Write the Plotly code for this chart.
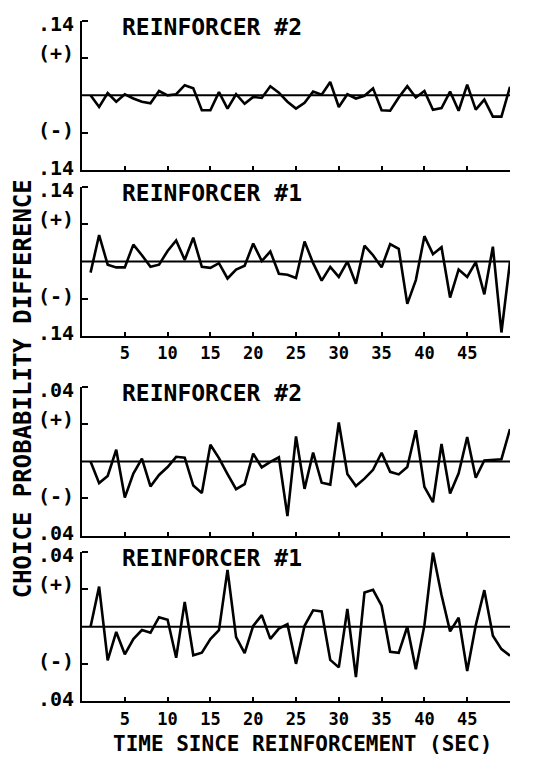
import plotly.graph_objects as go

# Seconds since reinforcement (1..50)
seconds = list(range(1, 51))

# Choice probability differences, upper pair of panels (scale +/- .14)
reinf2_upper = [0.000, -0.022, 0.004, -0.012, 0.002, -0.006, -0.012, -0.015, 0.008, 0.000,
                0.002, 0.019, 0.013, -0.028, -0.028, 0.006, -0.025, 0.002, -0.016, -0.003,
                -0.005, 0.017, 0.005, -0.012, -0.025, -0.014, 0.007, 0.001, 0.025, -0.022,
                0.002, -0.006, -0.001, 0.013, -0.028, -0.029, -0.004, 0.017, -0.004, 0.008,
                -0.027, -0.024, 0.007, -0.029, 0.020, -0.027, -0.008, -0.040, -0.040, 0.016]

reinf1_upper = [-0.021, 0.050, -0.006, -0.011, -0.011, 0.032, 0.012, -0.010, -0.006, 0.020,
                0.040, 0.003, 0.045, -0.010, -0.012, -0.003, -0.032, -0.015, -0.008, 0.034,
                0.001, 0.019, -0.023, -0.025, -0.031, 0.038, -0.003, -0.036, -0.010, -0.029,
                0.000, -0.042, 0.030, 0.012, -0.011, 0.033, 0.024, -0.080, -0.035, 0.048,
                0.014, 0.027, -0.068, -0.015, -0.029, -0.001, -0.062, 0.028, -0.134, 0.000]

# Choice probability differences, lower pair of panels (scale +/- .04)
reinf2_lower = [0.000, -0.0117, -0.0078, 0.0063, -0.0195, -0.0065, 0.0015, -0.0135, -0.0073, -0.0030,
                0.0025, 0.0020, -0.0130, -0.0170, 0.0090, 0.0018, -0.0068, -0.0150, -0.0123, 0.0042,
                -0.0032, -0.0002, 0.0022, -0.0295, 0.0135, -0.0148, 0.0048, -0.0115, -0.0125, 0.0210,
                -0.0068, -0.0133, -0.0093, -0.0045, 0.0047, -0.0056, -0.0070, -0.0030, 0.0168, -0.0137,
                -0.0220, 0.0094, -0.0173, -0.0064, 0.0132, -0.0088, 0.0005, 0.0010, 0.0012, 0.0175]

reinf1_lower = [0.000, 0.0215, -0.0180, -0.0028, -0.0148, -0.0066, -0.0018, -0.0032, 0.0051, 0.0037,
                -0.0166, 0.0133, -0.0153, -0.0139, -0.0066, -0.0019, 0.0305, -0.0056, -0.0142, 0.0004,
                0.0062, -0.0065, -0.0010, 0.0014, -0.0199, 0.0005, 0.0088, 0.0082, -0.0178, -0.0218,
                0.0095, -0.0270, 0.0184, 0.0198, 0.0113, -0.0134, -0.0140, 0.0000, -0.0228, 0.0007,
                0.0398, 0.0170, -0.0025, 0.0048, -0.0238, 0.0008, 0.0196, -0.0048, -0.0120, -0.0155]

panel_titles = ["REINFORCER #2", "REINFORCER #1", "REINFORCER #2", "REINFORCER #1"]
panel_series = [reinf2_upper, reinf1_upper, reinf2_lower, reinf1_lower]
panel_limits = [0.14, 0.14, 0.04, 0.04]
limit_labels = [".14", ".14", ".04", ".04"]
x_tick_values = [5, 10, 15, 20, 25, 30, 35, 40, 45, 50]
x_tick_labels = ["5", "10", "15", "20", "25", "30", "35", "40", "45", ""]

W, H = 556, 763
FONT = "DejaVu Sans Mono"
x_dom = [82 / W, 510 / W]
# pixel top/bottom of each panel's plotting area
panel_px = [(12, 165), (183, 335), (388, 540), (557, 710)]

fig = go.Figure()
layout = dict(
    width=W, height=H,
    margin=dict(l=0, r=0, t=0, b=0),
    paper_bgcolor="white", plot_bgcolor="white",
    showlegend=False,
    font=dict(family=FONT, color="black", size=20),
)

annotations = []
shapes = []
for i, (title, vals, lim, lab, (top, bot)) in enumerate(
        zip(panel_titles, panel_series, panel_limits, limit_labels, panel_px), start=1):
    sfx = "" if i == 1 else str(i)
    xa, ya = f"x{sfx}", f"y{sfx}"
    fig.add_trace(go.Scatter(x=seconds, y=vals, mode="lines",
                             line=dict(color="black", width=2.6),
                             xaxis=xa, yaxis=ya, hoverinfo="skip"))
    # zero reference line across the panel
    shapes.append(dict(type="line", xref=xa, yref=ya, x0=0, x1=50, y0=0, y1=0,
                       line=dict(color="black", width=2)))
    show_x_labels = i in (2, 4)
    layout[f"xaxis{sfx}"] = dict(
        domain=x_dom, range=[0, 50], anchor=ya,
        showline=True, linecolor="black", linewidth=2,
        showgrid=False, zeroline=False,
        ticks="inside", ticklen=4, tickwidth=2, tickcolor="black",
        tickvals=x_tick_values, ticktext=x_tick_labels,
        showticklabels=show_x_labels,
        ticklabelstandoff=1,
        tickfont=dict(family=FONT, size=17, weight="bold"),
    )
    layout[f"yaxis{sfx}"] = dict(
        domain=[1 - bot / H, 1 - top / H], range=[-lim, lim], anchor=xa,
        showline=True, linecolor="black", linewidth=2,
        showgrid=False, zeroline=False,
        ticks="", tickvals=[0.96 * lim, 0.57 * lim, -0.46 * lim, -0.97 * lim],
        ticktext=[lab, "(+)", "(-)", lab],
        tickfont=dict(family=FONT, size=20, weight="bold"),
        ticklabelstandoff=2,
        minor=dict(tickvals=[lim, 0.5 * lim, -0.5 * lim], ticks="inside",
                   ticklen=6, tickwidth=2, tickcolor="black"),
    )
    annotations.append(dict(
        text=title, xref="paper", yref=f"{ya} domain", x=120 / W, y=1,
        xanchor="left", yanchor="middle", yshift=-6, showarrow=False,
        font=dict(family=FONT, size=23, weight="bold"),
    ))

annotations.append(dict(
    text="CHOICE PROBABILITY DIFFERENCE", xref="paper", yref="paper",
    x=23 / W, y=1 - 390 / H, textangle=-90, showarrow=False,
    xanchor="center", yanchor="middle",
    font=dict(family=FONT, size=24, weight="bold"),
))
annotations.append(dict(
    text="TIME SINCE REINFORCEMENT (SEC)", xref="paper", yref="paper",
    x=302 / W, y=0, showarrow=False,
    xanchor="center", yanchor="bottom", borderpad=0, yshift=-4,
    font=dict(family=FONT, size=21, weight="bold"),
))

layout["annotations"] = annotations
layout["shapes"] = shapes
fig.update_layout(**layout)
fig.write_html("out.html")
